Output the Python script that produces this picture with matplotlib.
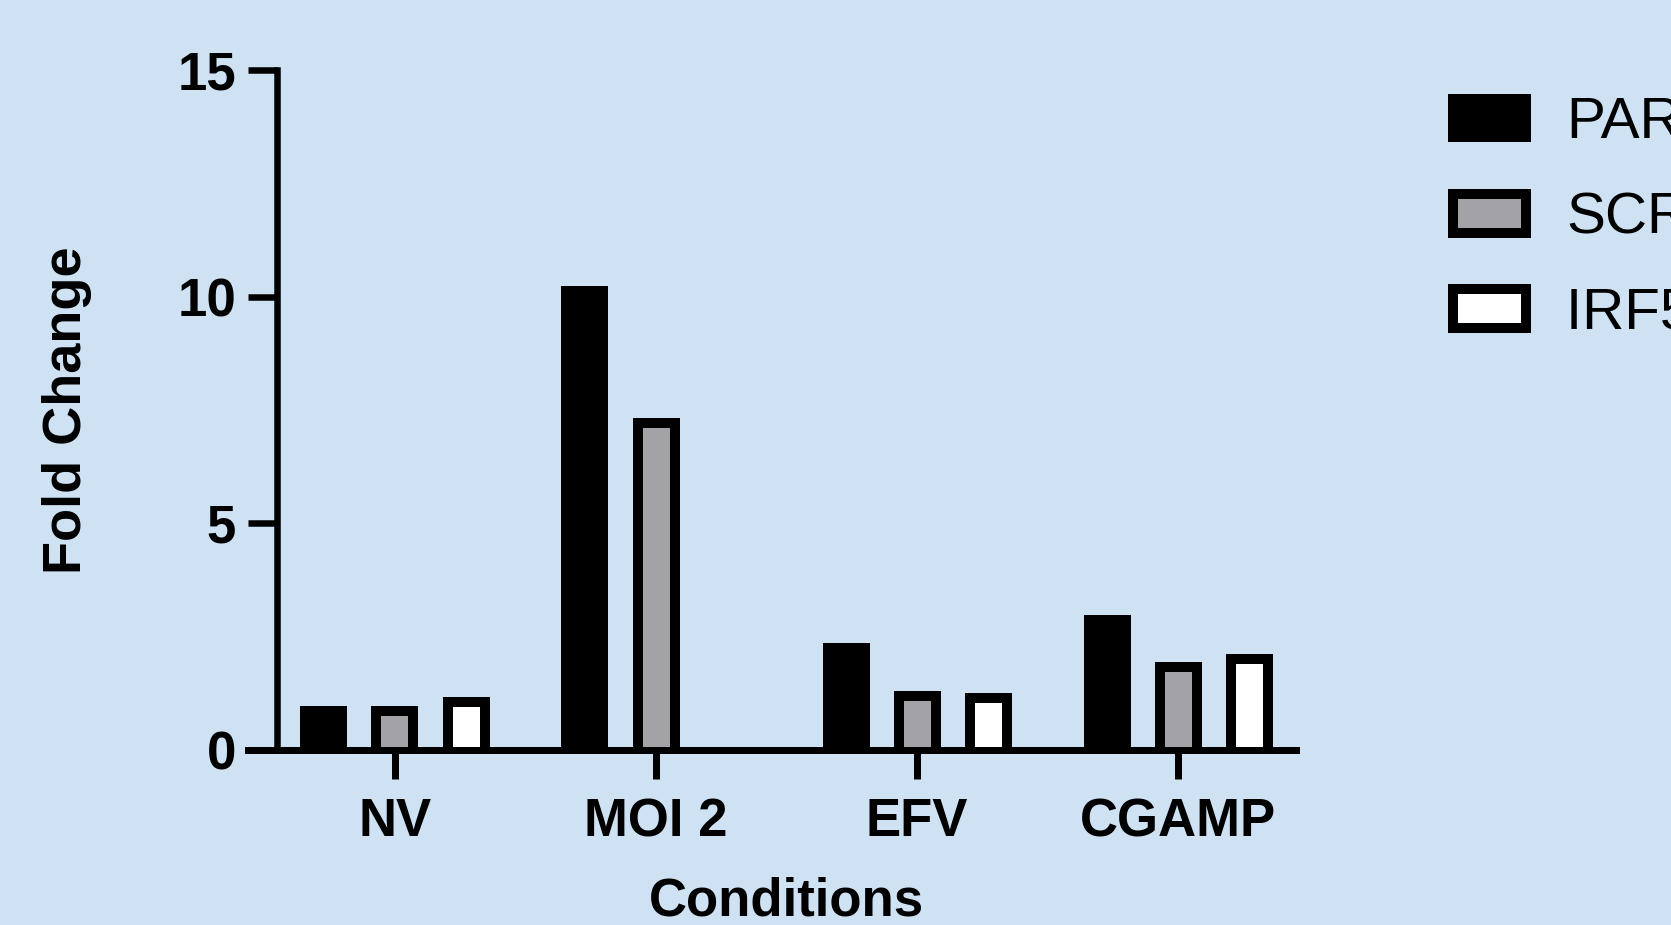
import matplotlib
matplotlib.use("Agg")
import matplotlib.pyplot as plt
from matplotlib.patches import Patch
import numpy as np

plt.rcParams['font.family'] = ['Liberation Sans', 'DejaVu Sans']

categories = ["NV", "MOI 2", "EFV", "CGAMP"]
series_names = ["PARENTAL", "SCRAMBLE", "IRF5 KO"]
par_values = [0.98, 10.24, 2.37, 2.98]
scr_values = [0.98, 7.32, 1.31, 1.94]
irf5_values = [1.18, 0.0, 1.26, 2.12]
y_ticks = [0, 5, 10, 15]

BG = "#cfe2f3"
GRAY = "#a3a2a7"
fills = ["black", GRAY, "white"]

DPI = 100
W, H = 1671, 925
fig = plt.figure(figsize=(W / DPI, H / DPI), dpi=DPI, facecolor=BG)

px = 72.0 / DPI  # points per pixel

ax_left, ax_right = 248, 1296
ax_top, ax_bottom = 70, 750
ax = fig.add_axes([ax_left / W, (H - ax_bottom) / H,
                   (ax_right - ax_left) / W, (ax_bottom - ax_top) / H])
ax.set_facecolor(BG)

x = np.arange(len(categories))
pitch = 0.2725
outer_w = 0.18
group_px = 261.0
y_px = (ax_bottom - ax_top) / 15.0
border = 10.0
inner_w = outer_w - 2 * border / group_px
inset_y = border / y_px

all_vals = [par_values, scr_values, irf5_values]
for i, vals in enumerate(all_vals):
    pos = x + (i - 1) * pitch
    v = np.array(vals)
    mask = v > 0
    ax.bar(pos[mask], v[mask], width=outer_w, color="black", linewidth=0, zorder=2)
    if i > 0:
        ax.bar(pos[mask], np.maximum(v[mask] - inset_y, 0), width=inner_w,
               color=fills[i], linewidth=0, zorder=3)

ax.set_xlim(-0.563, 3.451)
ax.set_ylim(0, 15)

for s in ["top", "right"]:
    ax.spines[s].set_visible(False)
ax.spines["left"].set_position(("data", -0.452))
ax.spines["left"].set_linewidth(6.5 * px)
ax.spines["bottom"].set_linewidth(7 * px)
ax.spines["left"].set_zorder(5)
ax.spines["bottom"].set_zorder(5)

ax.set_yticks(y_ticks)
ax.set_yticklabels([str(t) for t in y_ticks])
ax.set_xticks(x)
ax.set_xticklabels(categories)
ax.tick_params(axis="y", direction="out", length=29 * px, width=6.5 * px,
               pad=12 * px, labelsize=38)
ax.tick_params(axis="x", direction="out", length=29 * px, width=7 * px,
               pad=18.5 * px, labelsize=38)
for lab in ax.get_xticklabels() + ax.get_yticklabels():
    lab.set_fontweight("bold")

fig.text(786.5 / W, (H - 915) / H, "Conditions", ha="center", va="baseline",
         fontsize=38, fontweight="bold")
fig.text(67 / W, (H - 410) / H, "Fold Change", ha="center", va="center",
         rotation=90, fontsize=39, fontweight="bold")

handles = [Patch(facecolor=fills[i], edgecolor="black", linewidth=border * px)
           for i in range(3)]
leg = fig.legend(handles, series_names, loc="upper left",
                 bbox_to_anchor=(1452.7 / W, (H - 96.5) / H),
                 frameon=False, fontsize=42, borderpad=0, borderaxespad=0,
                 handlelength=1.25, handleheight=0.65, handletextpad=0.7,
                 labelspacing=0.71)

fig.savefig("out.png", dpi=DPI, facecolor=BG)
